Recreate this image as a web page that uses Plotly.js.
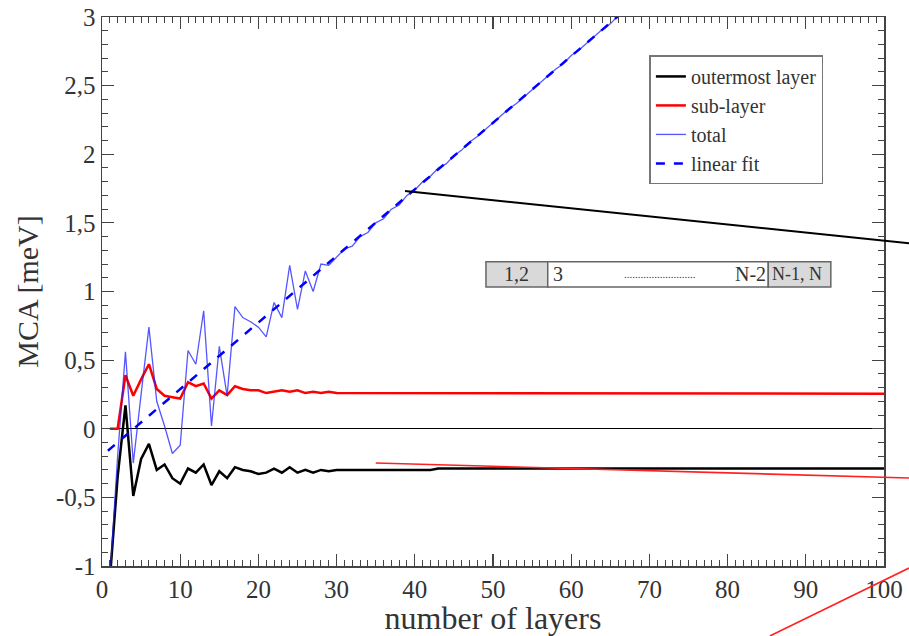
<!DOCTYPE html>
<html>
<head>
<meta charset="utf-8">
<script src="https://cdn.plot.ly/plotly-3.0.1.min.js"></script>
<style>html,body{margin:0;padding:0;background:#fff;}#chart{width:909px;height:636px;}</style>
</head>
<body>
<div id="chart"></div>
<script>
// ---- data ----
const outerX = [1,2,3,4,5,6,7,8,9,10,11,12,13,14,15,16,17,18,19,20,21,22,23,24,25,26,27,28,29,30,42,43,100];
const outerY = [-1.1,-0.35,0.17,-0.49,-0.22,-0.11,-0.30,-0.26,-0.36,-0.40,-0.29,-0.32,-0.26,-0.41,-0.31,-0.36,-0.28,-0.30,-0.31,-0.33,-0.32,-0.29,-0.32,-0.28,-0.32,-0.30,-0.32,-0.30,-0.31,-0.30,-0.30,-0.29,-0.29];

const subX = [1,2,3,4,5,6,7,8,9,10,11,12,13,14,15,16,17,18,19,20,21,22,23,24,25,26,27,28,29,30,42,43,100];
const subY = [0,0,0.39,0.24,0.36,0.47,0.29,0.24,0.23,0.22,0.34,0.31,0.33,0.22,0.28,0.245,0.31,0.29,0.28,0.28,0.26,0.27,0.28,0.27,0.28,0.26,0.27,0.26,0.27,0.26,0.26,0.255,0.255];

const totalX = [1,2,3,4,5,6,7,8,9,10,11,12,13,14,15,16,17,18,19,20,21,22,23,24,25,26,27,28,29,30,31,32,33,34,35,36,37,38,39,40,41,42,43,44,45,46,47,48,49,50,51,52,53,54,55,56,57,58,59,60,61,62,63,64,65,66,67,68];
const totalY = [-1.1,-0.2,0.56,-0.25,0.25,0.74,0.2,0.02,-0.18,-0.12,0.57,0.47,0.86,0.02,0.6,0.24,0.89,0.81,0.78,0.74,0.67,0.92,0.81,1.19,0.87,1.15,1.0,1.2,1.19,1.25,1.31,1.33,1.40,1.43,1.50,1.53,1.60,1.63,1.70,1.74,1.80,1.84,1.90,1.93,1.99,2.03,2.09,2.13,2.18,2.23,2.28,2.33,2.37,2.42,2.47,2.52,2.57,2.62,2.66,2.72,2.76,2.81,2.86,2.91,2.95,3.01,3.05,3.10];

const fitX = [0.75, 70];
const fitY = [-0.16, 3.2];

const legendNames = ["outermost layer", "sub-layer", "total", "linear fit"];
const xTickVals = [0,10,20,30,40,50,60,70,80,90,100];
const xTickText = ["0","10","20","30","40","50","60","70","80","90","100"];
const yTickVals = [-1,-0.5,0,0.5,1,1.5,2,2.5,3];
const yTickText = ["-1","-0,5","0","0,5","1","1,5","2","2,5","3"];
const insetLabels = ["1,2", "3", "..........................", "N-2", "N-1, N"];

const serif = "Liberation Serif, Times New Roman, serif";

const traces = [
  {x: outerX, y: outerY, name: legendNames[0], mode: "lines", line: {color: "#000000", width: 2.5}},
  {x: subX, y: subY, name: legendNames[1], mode: "lines", line: {color: "#ff0000", width: 2.5}},
  {x: totalX, y: totalY, name: legendNames[2], mode: "lines", line: {color: "rgba(30,30,255,0.75)", width: 1.3}},
  {x: fitX, y: fitY, name: legendNames[3], mode: "lines", line: {color: "#0000ff", width: 2.5, dash: "dash"}}
];

const axisCommon = {
  showline: true, linecolor: "#444", linewidth: 1.5, mirror: "ticks",
  ticks: "inside", ticklen: 12, tickwidth: 1.2, tickcolor: "#444",
  showgrid: false, tickmode: "array",
  tickfont: {family: serif, size: 25, color: "#333"}
};

const txt = (s, x, anchor, size) => ({xref: "paper", yref: "paper", x: x, y: 0.531, xanchor: anchor, yanchor: "middle",
  text: s, showarrow: false, borderpad: 0, font: {family: serif, size: size, color: "#333"}});

const layout = {
  width: 909, height: 636,
  margin: {l: 102, r: 25, t: 17, b: 70},
  paper_bgcolor: "#fff", plot_bgcolor: "#fff",
  separators: ", ",
  showlegend: true,
  font: {family: serif, color: "#333"},
  xaxis: Object.assign({}, axisCommon, {
    range: [0, 100], tickvals: xTickVals, ticktext: xTickText, zeroline: false,
    minor: {dtick: 1, ticks: "inside", ticklen: 6, tickcolor: "#444", tickwidth: 1},
    title: {text: "number of layers", font: {family: serif, size: 32, color: "#333"}, standoff: 0}
  }),
  yaxis: Object.assign({}, axisCommon, {
    range: [-1, 3], tickvals: yTickVals, ticktext: yTickText,
    zeroline: true, zerolinecolor: "#000", zerolinewidth: 1,
    minor: {dtick: 0.1, ticks: "inside", ticklen: 6, tickcolor: "#444", tickwidth: 1},
    title: {text: "MCA [meV]", font: {family: serif, size: 30, color: "#333"}, standoff: 8}
  }),
  legend: {
    x: 0.70, y: 0.93, xanchor: "left", yanchor: "top",
    bgcolor: "#fff", bordercolor: "#777", borderwidth: 1.5,
    font: {family: serif, size: 20, color: "#333"},
    tracegroupgap: 0, itemwidth: 30
  },
  shapes: [
    // inset layer diagram
    {type: "rect", xref: "paper", yref: "paper", x0: 0.491, x1: 0.570, y0: 0.508, y1: 0.554, fillcolor: "#d9d9d9", line: {color: "#666", width: 1.5}},
    {type: "rect", xref: "paper", yref: "paper", x0: 0.570, x1: 0.852, y0: 0.508, y1: 0.554, fillcolor: "#ffffff", line: {color: "#666", width: 1.5}},
    {type: "rect", xref: "paper", yref: "paper", x0: 0.852, x1: 0.932, y0: 0.508, y1: 0.554, fillcolor: "#d9d9d9", line: {color: "#666", width: 1.5}},
    // overlaid pointer lines
    {type: "line", xref: "paper", yref: "paper", x0: 0.3875, y0: 0.683, x1: 1.032, y1: 0.588, line: {color: "#000", width: 2}},
    {type: "line", xref: "paper", yref: "paper", x0: 0.350, y0: 0.1876, x1: 1.032, y1: 0.1603, line: {color: "#ff2020", width: 1.6}},
    {type: "line", xref: "paper", yref: "paper", x0: 0.854, y0: -0.1275, x1: 1.032, y1: -0.0036, line: {color: "#ff2020", width: 1.6}}
  ],
  annotations: [
    txt(insetLabels[0], 0.5305, "center", 20),
    txt(insetLabels[1], 0.575, "left", 20),
    txt(insetLabels[2], 0.714, "center", 11),
    txt(insetLabels[3], 0.851, "right", 20),
    txt(insetLabels[4], 0.855, "left", 18)
  ]
};

Plotly.newPlot("chart", traces, layout, {displayModeBar: false, staticPlot: true});
</script>
</body>
</html>
